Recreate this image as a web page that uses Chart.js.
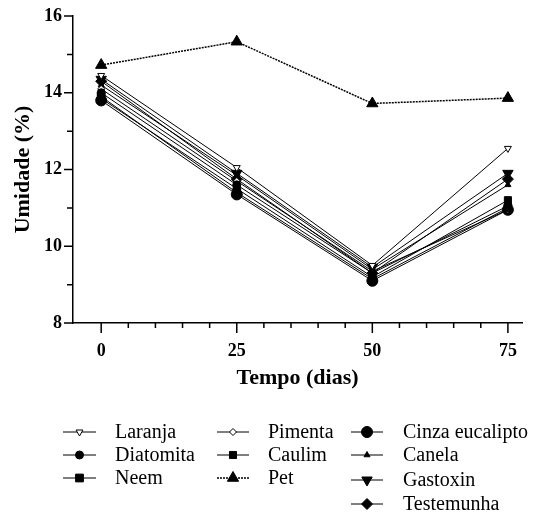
<!DOCTYPE html>
<html lang="pt">
<head>
<meta charset="UTF-8">
<title>Umidade x Tempo</title>
<script src="https://cdn.jsdelivr.net/npm/chart.js"></script>
<style>
  html, body { margin: 0; padding: 0; background: #fff; }
  #wrap { width: 535px; height: 519px; }
</style>
</head>
<body>
<div id="wrap"><canvas id="chart" width="535" height="519"></canvas></div>
<script>
// dados
const dias = [0, 25, 50, 75];
const laranja    = [14.45, 12.05, 9.50, 12.55];
const diatomita  = [14.00, 11.60, 9.30, 11.05];
const neem       = [13.90, 11.40, 9.15, 11.00];
const pimenta    = [14.10, 11.70, 9.35, 10.95];
const caulim     = [13.85, 11.50, 9.20, 11.20];
const pet        = [14.72, 15.33, 13.72, 13.86];
const cinza      = [13.80, 11.35, 9.10, 10.95];
const canela     = [14.20, 11.85, 9.40, 11.60];
const gastoxin   = [14.35, 11.90, 9.45, 11.90];
const testemunha = [14.30, 11.75, 9.30, 11.75];

const yTicks = [8, 10, 12, 14, 16];
const xTicks = [0, 25, 50, 75];

const serif = '"Liberation Serif", "DejaVu Serif", serif';

function serie(label, values, style, extra) {
    return Object.assign({
        label: label,
        data: values.map((v, i) => ({ x: dias[i], y: v })),
        borderColor: '#000',
        borderWidth: 1,
        backgroundColor: '#000',
        pointBorderColor: '#000',
        pointBorderWidth: 1,
        pointStyle: style,
        pointRadius: 4.5,
        tension: 0
    }, extra || {});
}

const datasets = [
    serie('Laranja', laranja, 'triangle', { pointRotation: 180, backgroundColor: '#fff', pointRadius: 4 }),
    serie('Diatomita', diatomita, 'circle', { pointRadius: 4 }),
    serie('Neem', neem, 'rect', { pointRadius: 5.5 }),
    serie('Pimenta', pimenta, 'rectRot', { backgroundColor: '#fff', pointRadius: 3.5 }),
    serie('Caulim', caulim, 'rect', { pointRadius: 5 }),
    serie('Pet', pet, 'triangle', { borderDash: [2, 1], borderWidth: 1.5, pointRadius: 6.5 }),
    serie('Cinza eucalipto', cinza, 'circle', { pointRadius: 5.5 }),
    serie('Canela', canela, 'triangle', { pointRadius: 3.5 }),
    serie('Gastoxin', gastoxin, 'triangle', { pointRotation: 180, pointRadius: 6 }),
    serie('Testemunha', testemunha, 'rectRot', { pointRadius: 5.5 })
];

// marcações menores e maiores dos eixos
const axisTicks = {
    id: 'axisTicks',
    afterDraw(chart) {
        const { ctx, chartArea } = chart;
        const x = chart.scales.x, y = chart.scales.y;
        ctx.save();
        ctx.strokeStyle = '#000';
        ctx.lineWidth = 1.5;
        ctx.beginPath();
        for (let v = 8; v <= 16; v += 1) {
            const py = y.getPixelForValue(v);
            const len = v % 2 === 0 ? 9 : 6;
            ctx.moveTo(chartArea.left - len, py);
            ctx.lineTo(chartArea.left, py);
        }
        for (let v = 0; v <= 75; v += 5) {
            const px = x.getPixelForValue(v);
            const len = v % 25 === 0 ? 10 : 5;
            ctx.moveTo(px, chartArea.bottom);
            ctx.lineTo(px, chartArea.bottom + len);
        }
        ctx.stroke();
        ctx.restore();
    }
};

// legenda em 3 colunas abaixo do gráfico
const legendCols = [
    { x0: 63, x1: 96, tx: 115, rows: [0, 1, 2], ys: [432, 455, 478] },
    { x0: 217, x1: 249, tx: 268, rows: [3, 4, 5], ys: [432, 455, 478] },
    { x0: 351, x1: 383, tx: 403, rows: [6, 7, 8, 9], ys: [432, 455, 480, 504] }
];

const legendPlugin = {
    id: 'legendGrid',
    afterDraw(chart) {
        const ctx = chart.ctx;
        ctx.save();
        legendCols.forEach(col => {
            col.rows.forEach((di, k) => {
                const ds = chart.data.datasets[di];
                const yy = col.ys[k];
                ctx.save();
                ctx.strokeStyle = '#000';
                ctx.lineWidth = ds.borderWidth;
                ctx.setLineDash(ds.borderDash || []);
                ctx.beginPath();
                ctx.moveTo(col.x0, yy);
                ctx.lineTo(col.x1, yy);
                ctx.stroke();
                ctx.restore();
                ctx.save();
                ctx.fillStyle = ds.backgroundColor;
                ctx.strokeStyle = '#000';
                ctx.lineWidth = 1;
                Chart.helpers.drawPoint(ctx, {
                    pointStyle: ds.pointStyle,
                    radius: ds.pointRadius,
                    rotation: ds.pointRotation || 0,
                    borderWidth: 1
                }, (col.x0 + col.x1) / 2, yy);
                ctx.restore();
                ctx.fillStyle = '#000';
                ctx.font = '20px ' + serif;
                ctx.textBaseline = 'middle';
                ctx.textAlign = 'left';
                ctx.fillText(ds.label, col.tx, yy + 1);
            });
        });
        ctx.restore();
    }
};

new Chart(document.getElementById('chart').getContext('2d'), {
    type: 'line',
    data: { datasets: datasets },
    options: {
        responsive: false,
        animation: false,
        layout: { padding: { left: 0, top: 16, right: 13, bottom: 127 } },
        plugins: {
            legend: { display: false },
            tooltip: { enabled: false }
        },
        scales: {
            x: {
                type: 'linear',
                min: -5.2,
                max: 77.6,
                afterBuildTicks: s => { s.ticks = xTicks.map(v => ({ value: v })); },
                afterFit: s => { s.height = 69; s.paddingLeft = 0; s.paddingRight = 0; },
                grid: { display: false, drawTicks: false },
                border: { display: true, color: '#000', width: 1.5 },
                ticks: {
                    padding: 18,
                    color: '#000',
                    font: { family: serif, size: 18, weight: 'bold' }
                },
                title: {
                    display: true,
                    text: 'Tempo (dias)',
                    color: '#000',
                    font: { family: serif, size: 22, weight: 'bold' },
                    padding: { top: 0, bottom: 0 }
                }
            },
            y: {
                min: 8,
                max: 16,
                afterBuildTicks: s => { s.ticks = yTicks.map(v => ({ value: v })); },
                afterFit: s => { s.width = 73; s.paddingTop = 0; s.paddingBottom = 0; },
                grid: { display: false, drawTicks: false },
                border: { display: true, color: '#000', width: 1.5 },
                ticks: {
                    padding: 11,
                    color: '#000',
                    font: { family: serif, size: 18, weight: 'bold' }
                },
                title: {
                    display: true,
                    text: 'Umidade (%)',
                    color: '#000',
                    font: { family: serif, size: 22, weight: 'bold' },
                    padding: { top: 10, bottom: 0 }
                }
            }
        }
    },
    plugins: [axisTicks, legendPlugin]
});
</script>
</body>
</html>
